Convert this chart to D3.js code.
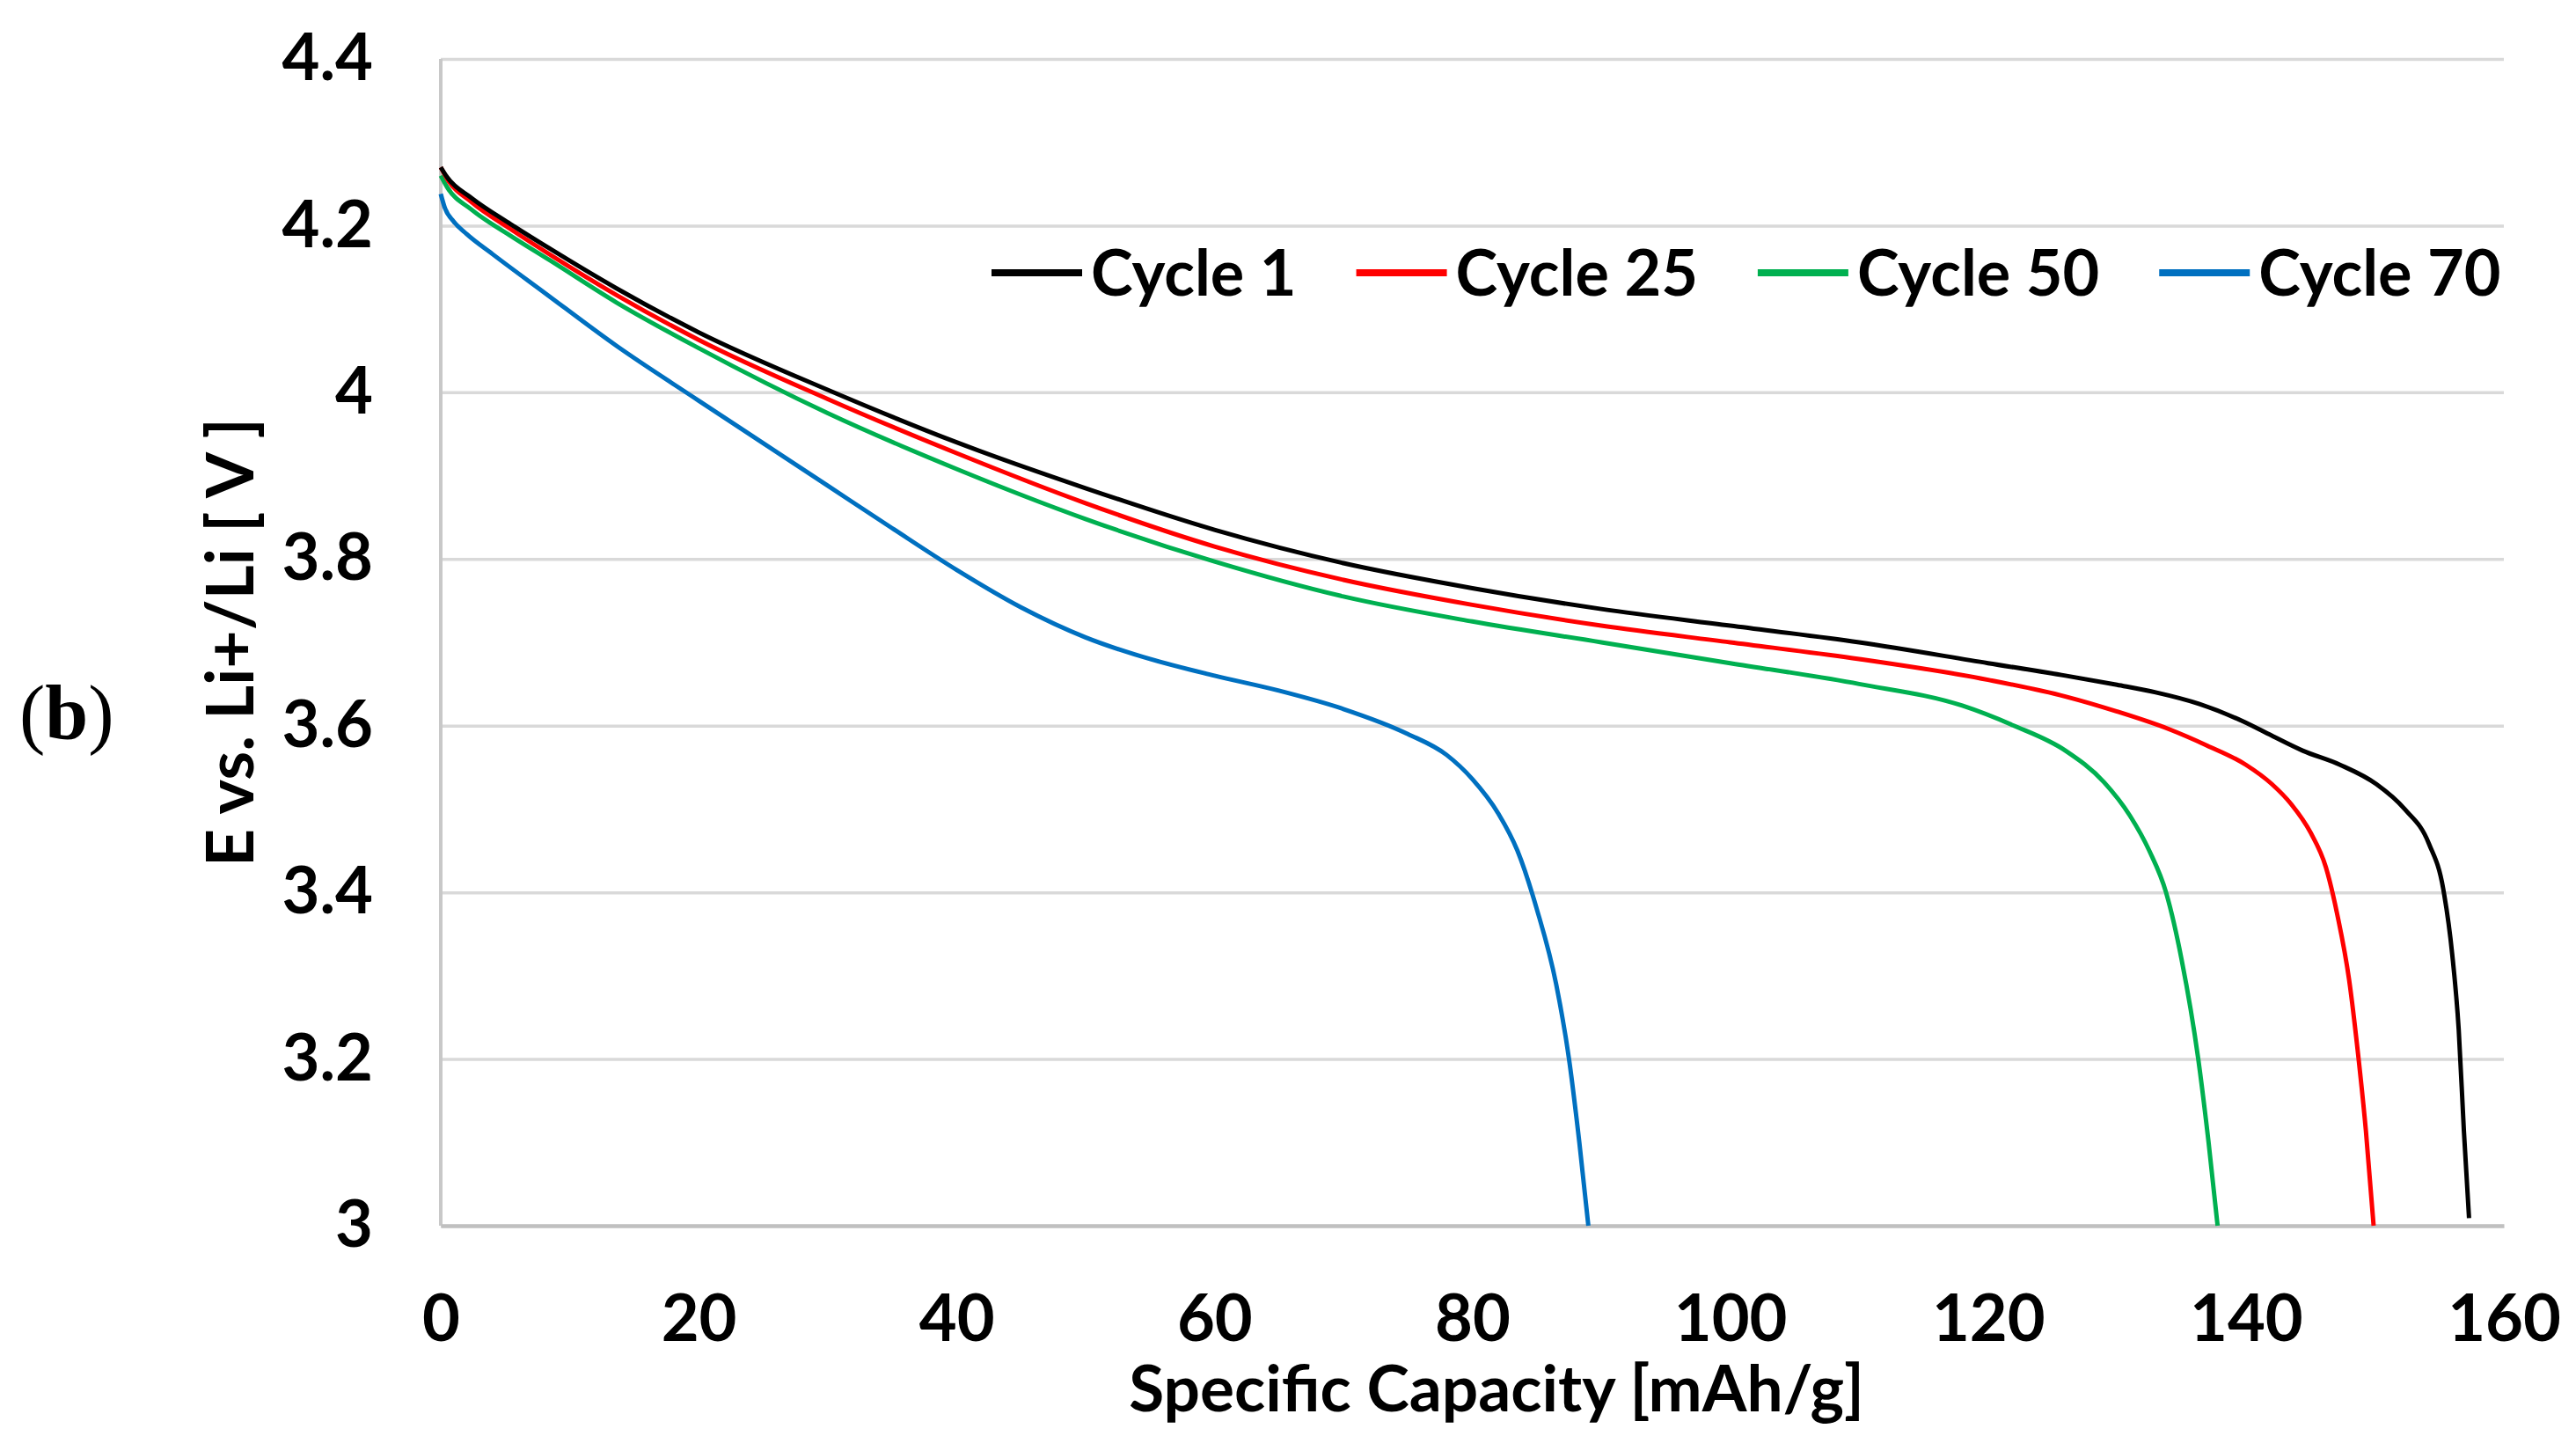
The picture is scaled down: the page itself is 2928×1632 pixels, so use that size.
<!DOCTYPE html>
<html>
<head>
<meta charset="utf-8">
<script src="https://cdn.jsdelivr.net/npm/d3@7"></script>
<style>
  body { margin: 0; background: #fff; }
  text { font-family: Lato, "Open Sans", sans-serif; font-weight: bold; fill: #000; }
</style>
</head>
<body>
<div id="chart"></div>
<script>
// capacity [mAh/g] and potential [V]
const cycle1Cap = [0, 0.5, 2.4, 5.4, 8.5, 13.6, 20, 30, 40, 50, 60, 70, 80, 90, 100, 110, 120, 126, 130, 133, 136.4, 139.8, 142, 144.4, 147.3, 150.1, 152.3, 154.2, 155.3, 156, 156.5, 156.9, 157.3];
const cycle1V   = [4.27, 4.258, 4.233, 4.202, 4.172, 4.125, 4.072, 4.003, 3.94, 3.885, 3.835, 3.795, 3.765, 3.74, 3.72, 3.7, 3.675, 3.66, 3.649, 3.64, 3.626, 3.605, 3.588, 3.57, 3.553, 3.53, 3.5, 3.458, 3.404, 3.325, 3.235, 3.114, 3.009];

const cycle25Cap = [0, 0.5, 2.4, 5.4, 8.5, 13.6, 20, 30, 40, 50, 60, 70, 80, 90, 100, 110, 120, 126, 130, 134, 137, 140, 142, 143.5, 145, 146.2, 147.1, 148, 148.7, 149.3, 149.9];
const cycle25V   = [4.27, 4.256, 4.228, 4.196, 4.165, 4.117, 4.063, 3.992, 3.927, 3.867, 3.815, 3.775, 3.745, 3.72, 3.7, 3.68, 3.655, 3.635, 3.617, 3.596, 3.576, 3.553, 3.53, 3.506, 3.472, 3.43, 3.372, 3.295, 3.205, 3.114, 3.0];

const cycle50Cap = [0, 0.5, 2.4, 5.4, 8.5, 13.6, 20, 30, 40, 50, 60, 70, 80, 90, 100, 110, 118, 122, 126, 129, 131, 132.5, 133.8, 135, 136.3, 137.1, 137.8];
const cycle50V   = [4.26, 4.246, 4.219, 4.188, 4.158, 4.108, 4.053, 3.975, 3.908, 3.848, 3.797, 3.755, 3.725, 3.7, 3.675, 3.65, 3.624, 3.6, 3.57, 3.532, 3.492, 3.45, 3.4, 3.32, 3.2, 3.1, 3.0];

const cycle70Cap = [0, 0.3, 1, 2, 4, 8, 13.6, 20, 25, 30, 35, 40, 45, 50, 55, 60, 65, 70, 75, 78, 80, 82, 83.5, 85, 86.5, 87.5, 88.3, 89];
const cycle70V   = [4.238, 4.222, 4.205, 4.19, 4.166, 4.12, 4.056, 3.99, 3.939, 3.888, 3.837, 3.787, 3.742, 3.706, 3.68, 3.66, 3.642, 3.62, 3.59, 3.565, 3.536, 3.495, 3.45, 3.38, 3.29, 3.2, 3.1, 3.0];

const seriesNames = ["Cycle 1", "Cycle 25", "Cycle 50", "Cycle 70"];
const seriesColors = ["#000000", "#ff0000", "#00b050", "#0070c0"];
const xTicks = [0, 20, 40, 60, 80, 100, 120, 140, 160];
const yTicks = [3, 3.2, 3.4, 3.6, 3.8, 4, 4.2, 4.4];

const series = [
  [cycle1Cap, cycle1V],
  [cycle25Cap, cycle25V],
  [cycle50Cap, cycle50V],
  [cycle70Cap, cycle70V]
].map(([c, v], i) => ({ name: seriesNames[i], color: seriesColors[i], pts: c.map((x, j) => [x, v[j]]) }));

const W = 2928, H = 1632;
const margin = { left: 501, right: 82, top: 67, bottom: 239 };
const w = W - margin.left - margin.right;
const h = H - margin.top - margin.bottom;

const svg = d3.select("#chart").append("svg")
  .attr("width", W)
  .attr("height", H);

const g = svg.append("g").attr("transform", `translate(${margin.left},${margin.top})`);

const x = d3.scaleLinear().domain([0, 160]).range([0, w]);
const y = d3.scaleLinear().domain([3, 4.4]).range([h, 0]);

// horizontal gridlines + y labels
const yAxis = g.append("g")
  .call(d3.axisLeft(y).tickValues(yTicks).tickFormat(d => String(d)).tickSize(-w).tickPadding(77));
yAxis.select(".domain").remove();
yAxis.selectAll("line").attr("stroke", "#d9d9d9").attr("stroke-width", 3.5);
yAxis.selectAll("text").attr("font-size", 74).attr("font-family", "Lato, sans-serif").attr("font-weight", "bold");

// left axis line
g.append("line")
  .attr("x1", 0).attr("x2", 0).attr("y1", 0).attr("y2", h)
  .attr("stroke", "#c8c8c8").attr("stroke-width", 4);

// bottom axis
const xAxis = g.append("g")
  .attr("transform", `translate(0,${h})`)
  .call(d3.axisBottom(x).tickValues(xTicks).tickSize(0).tickPadding(78));
xAxis.select(".domain").attr("stroke", "#c0c0c0").attr("stroke-width", 4.5);
xAxis.selectAll("text").attr("font-size", 74).attr("font-family", "Lato, sans-serif").attr("font-weight", "bold");

// curves
const line = d3.line()
  .x(d => x(d[0]))
  .y(d => y(d[1]))
  .curve(d3.curveMonotoneX);

g.selectAll(".curve")
  .data(series.slice().reverse())
  .enter().append("path")
  .attr("class", "curve")
  .attr("d", d => line(d.pts))
  .attr("fill", "none")
  .attr("stroke", d => d.color)
  .attr("stroke-width", 5)
  .attr("stroke-linejoin", "round");

// legend
const legend = svg.append("g");
let lx = 1127;
series.forEach(s => {
  legend.append("line")
    .attr("x1", lx).attr("x2", lx + 103)
    .attr("y1", 310).attr("y2", 310)
    .attr("stroke", s.color).attr("stroke-width", 8);
  const t = legend.append("text")
    .attr("x", lx + 113).attr("y", 336)
    .attr("font-size", 72)
    .text(s.name);
  lx += 113 + t.node().getComputedTextLength() + 68;
});

// axis titles
svg.append("text")
  .attr("x", 1701).attr("y", 1604)
  .attr("text-anchor", "middle")
  .attr("font-size", 73)
  .text("Specific Capacity [mAh/g]");

svg.append("text")
  .attr("transform", "translate(288,730) rotate(-90)")
  .attr("text-anchor", "middle")
  .attr("font-size", 75)
  .text("E vs. Li+/Li [ V ]");

// panel label
const lab = svg.append("text")
  .attr("x", 22).attr("y", 840)
  .attr("font-size", 88)
  .style("font-family", "'Liberation Serif', 'DejaVu Serif', serif")
  .style("font-weight", "normal");
lab.append("tspan").text("(");
lab.append("tspan").style("font-weight", "bold").text("b");
lab.append("tspan").text(")");
</script>
</body>
</html>
